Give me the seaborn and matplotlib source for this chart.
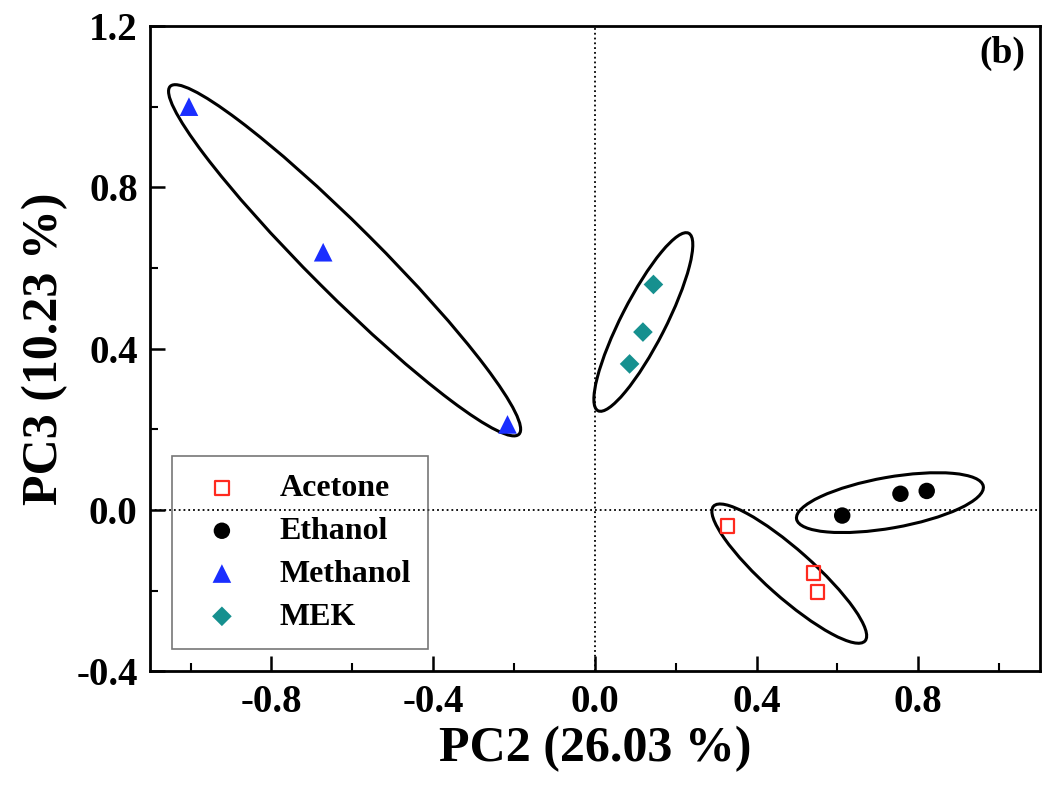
import matplotlib
matplotlib.use('Agg')
import matplotlib.pyplot as plt
from matplotlib.patches import Ellipse
from matplotlib.ticker import MultipleLocator
import seaborn as sns

# PCA scores (PC2, PC3)
acetone_pc2 = [0.328, 0.541, 0.551]
acetone_pc3 = [-0.040, -0.156, -0.204]
ethanol_pc2 = [0.612, 0.756, 0.821]
ethanol_pc3 = [-0.014, 0.040, 0.047]
methanol_pc2 = [-1.004, -0.672, -0.216]
methanol_pc3 = [1.000, 0.639, 0.212]
mek_pc2 = [0.086, 0.119, 0.145]
mek_pc3 = [0.362, 0.441, 0.559]

x_ticks = [-0.8, -0.4, 0.0, 0.4, 0.8]
y_ticks = [-0.4, 0.0, 0.4, 0.8, 1.2]

sns.set_style('ticks')
plt.rcParams['font.family'] = ['Liberation Serif', 'DejaVu Serif']
plt.rcParams['font.weight'] = 'bold'
for key in ['text.color', 'axes.labelcolor', 'xtick.color', 'ytick.color',
            'axes.edgecolor']:
    plt.rcParams[key] = 'black'

fig, ax = plt.subplots(figsize=(10.5, 8), dpi=100)
fig.subplots_adjust(left=0.143, right=0.990, top=0.9675, bottom=0.161)

# zero lines
ax.axhline(0, color='black', linestyle=':', linewidth=1.3, zorder=1)
ax.axvline(0, color='black', linestyle=':', linewidth=1.3, zorder=1)

# group ellipses (drawn by hand in the original)
ellipses = [
    ((-0.619, 0.619), 1.22, 0.17, -45),   # Methanol
    ((0.120, 0.466), 0.494, 0.11, 63),     # MEK
    ((0.730, 0.018), 0.469, 0.126, 10),    # Ethanol
    ((0.481, -0.158), 0.502, 0.118, -41.7) # Acetone
]
for center, w, h, ang in ellipses:
    ax.add_patch(Ellipse(center, w, h, angle=ang, fill=False,
                         edgecolor='black', linewidth=2.2, zorder=2))

sns.scatterplot(x=acetone_pc2, y=acetone_pc3, ax=ax, marker='s', s=95,
                color='#ff2a1f', facecolor='none', edgecolor='#ff2a1f',
                linewidth=1.6, label='Acetone', zorder=3)
sns.scatterplot(x=ethanol_pc2, y=ethanol_pc3, ax=ax, marker='o', s=140,
                color='black', edgecolor='none', label='Ethanol', zorder=3)
sns.scatterplot(x=methanol_pc2, y=methanol_pc3, ax=ax, marker='^', s=180,
                color='#1a2eff', edgecolor='none', label='Methanol', zorder=3)
sns.scatterplot(x=mek_pc2, y=mek_pc3, ax=ax, marker='D', s=100,
                color='#16908f', edgecolor='none', label='MEK', zorder=3)

ax.set_xlim(-1.1, 1.1)
ax.set_ylim(-0.4, 1.2)
ax.set_xticks(x_ticks)
ax.set_yticks(y_ticks)
ax.set_xticklabels([f'{v:.1f}' for v in x_ticks])
ax.set_yticklabels([f'{v:.1f}' for v in y_ticks])
ax.xaxis.set_minor_locator(MultipleLocator(0.2))
ax.yaxis.set_minor_locator(MultipleLocator(0.2))
ax.tick_params(which='major', direction='in', length=11, width=1.8,
               labelsize=28, pad=9)
ax.tick_params(which='minor', direction='in', length=6, width=1.5)
for lab in ax.get_xticklabels() + ax.get_yticklabels():
    lab.set_fontweight('bold')
for sp in ax.spines.values():
    sp.set_linewidth(2.0)
    sp.set_visible(True)

ax.set_xlabel('PC2 (26.03 %)', fontsize=36, fontweight='bold', labelpad=4)
ax.set_ylabel('PC3 (10.23 %)', fontsize=36, fontweight='bold', labelpad=6)

ax.text(0.958, 0.958, '(b)', transform=ax.transAxes, ha='center', va='center',
        fontsize=27, fontweight='bold')

leg = ax.legend(loc='lower left', bbox_to_anchor=(0.025, 0.034),
                borderaxespad=0, frameon=True, fancybox=False,
                prop={'family': 'Liberation Serif', 'weight': 'bold', 'size': 23},
                labelspacing=0.42, handletextpad=0.8, borderpad=0.55,
                handlelength=2.0)
leg.get_frame().set_facecolor('none')
leg.get_frame().set_edgecolor('#555555')
leg.get_frame().set_linewidth(1.2)

fig.savefig('out.png', dpi=100)
